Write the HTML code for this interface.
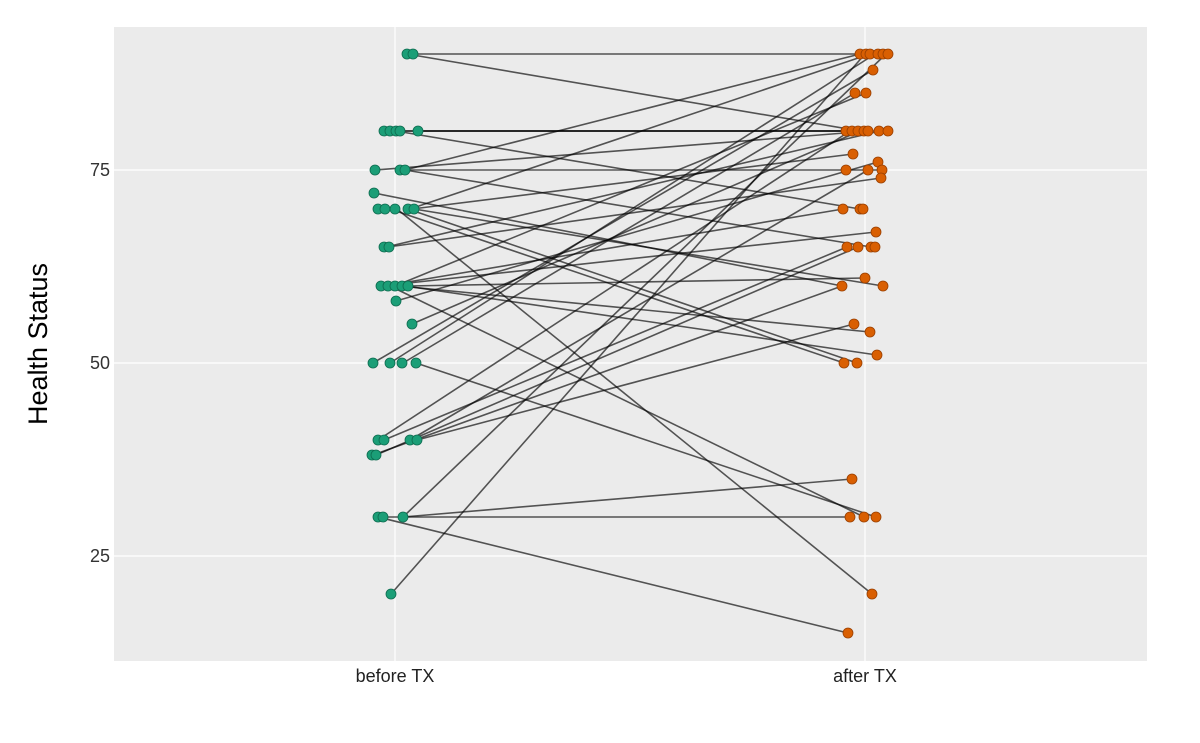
<!DOCTYPE html>
<html><head><style>body{margin:0;background:#fff}</style></head><body>
<svg width="1200" height="738" xmlns="http://www.w3.org/2000/svg" font-family="Liberation Sans, sans-serif">
<rect x="0" y="0" width="1200" height="738" fill="#fff"/>
<rect x="114" y="27" width="1033" height="634" fill="#ebebeb"/>
<g stroke="#fff" stroke-width="1.2">
<line x1="114" x2="1147" y1="170" y2="170"/><line x1="114" x2="1147" y1="363" y2="363"/><line x1="114" x2="1147" y1="556" y2="556"/>
<line x1="395" x2="395" y1="27" y2="661"/><line x1="865" x2="865" y1="27" y2="661"/>
</g>
<g font-size="18" fill="#333" text-anchor="end">
<text x="110" y="176">75</text><text x="110" y="369">50</text><text x="110" y="562">25</text>
</g>
<g font-size="18" fill="#222" text-anchor="middle">
<text x="395" y="682">before TX</text><text x="865" y="682">after TX</text>
</g>
<text transform="translate(47,344) rotate(-90)" font-size="27" text-anchor="middle" fill="#000">Health Status</text>
<g stroke="#000" stroke-opacity="0.65" stroke-width="1.6">
<line x1="413" y1="54" x2="888" y2="54"/>
<line x1="407" y1="54" x2="860" y2="131"/>
<line x1="390" y1="131" x2="860" y2="131"/>
<line x1="384" y1="131" x2="846" y2="131"/>
<line x1="396" y1="131" x2="860" y2="209"/>
<line x1="418" y1="131" x2="890" y2="131"/>
<line x1="375" y1="170" x2="870" y2="131"/>
<line x1="400" y1="170" x2="882" y2="170"/>
<line x1="405" y1="170" x2="871" y2="247"/>
<line x1="405" y1="170" x2="860" y2="54"/>
<line x1="374" y1="193" x2="842" y2="286"/>
<line x1="410" y1="209" x2="870" y2="54"/>
<line x1="412" y1="209" x2="853" y2="154"/>
<line x1="414" y1="209" x2="883" y2="286"/>
<line x1="408" y1="209" x2="857" y2="363"/>
<line x1="397" y1="209" x2="872" y2="594"/>
<line x1="388" y1="247" x2="881" y2="178"/>
<line x1="386" y1="247" x2="880" y2="131"/>
<line x1="381" y1="286" x2="876" y2="232"/>
<line x1="395" y1="286" x2="866" y2="93"/>
<line x1="400" y1="286" x2="870" y2="332"/>
<line x1="405" y1="286" x2="877" y2="355"/>
<line x1="408" y1="286" x2="865" y2="278"/>
<line x1="390" y1="286" x2="864" y2="517"/>
<line x1="396" y1="301" x2="878" y2="162"/>
<line x1="412" y1="324" x2="860" y2="131"/>
<line x1="373" y1="363" x2="873" y2="70"/>
<line x1="390" y1="363" x2="875" y2="54"/>
<line x1="403" y1="363" x2="855" y2="93"/>
<line x1="416" y1="363" x2="876" y2="517"/>
<line x1="384" y1="440" x2="847" y2="247"/>
<line x1="378" y1="440" x2="850" y2="131"/>
<line x1="410" y1="440" x2="868" y2="170"/>
<line x1="417" y1="440" x2="854" y2="324"/>
<line x1="373" y1="455" x2="842" y2="286"/>
<line x1="376" y1="455" x2="858" y2="247"/>
<line x1="383" y1="517" x2="850" y2="517"/>
<line x1="378" y1="517" x2="848" y2="633"/>
<line x1="403" y1="517" x2="852" y2="479"/>
<line x1="403" y1="517" x2="886" y2="54"/>
<line x1="391" y1="594" x2="865" y2="54"/>
<line x1="390" y1="209" x2="844" y2="363"/>
<line x1="384" y1="286" x2="843" y2="209"/>
</g>
<g fill="#1b9e77" stroke="#0d6b4f" stroke-width="0.8">
<circle cx="407" cy="54" r="5"/><circle cx="413" cy="54" r="5"/>
<circle cx="384" cy="131" r="5"/><circle cx="390" cy="131" r="5"/><circle cx="396" cy="131" r="5"/><circle cx="400" cy="131" r="5"/><circle cx="418" cy="131" r="5"/>
<circle cx="375" cy="170" r="5"/><circle cx="400" cy="170" r="5"/><circle cx="405" cy="170" r="5"/>
<circle cx="374" cy="193" r="5"/>
<circle cx="378" cy="209" r="5"/><circle cx="385" cy="209" r="5"/><circle cx="395" cy="209" r="5"/><circle cx="408" cy="209" r="5"/><circle cx="414" cy="209" r="5"/>
<circle cx="384" cy="247" r="5"/><circle cx="389" cy="247" r="5"/>
<circle cx="381" cy="286" r="5"/><circle cx="388" cy="286" r="5"/><circle cx="395" cy="286" r="5"/><circle cx="402" cy="286" r="5"/><circle cx="408" cy="286" r="5"/>
<circle cx="396" cy="301" r="5"/><circle cx="412" cy="324" r="5"/>
<circle cx="373" cy="363" r="5"/><circle cx="390" cy="363" r="5"/><circle cx="402" cy="363" r="5"/><circle cx="416" cy="363" r="5"/>
<circle cx="378" cy="440" r="5"/><circle cx="384" cy="440" r="5"/><circle cx="410" cy="440" r="5"/><circle cx="417" cy="440" r="5"/>
<circle cx="372" cy="455" r="5"/><circle cx="376" cy="455" r="5"/>
<circle cx="378" cy="517" r="5"/><circle cx="383" cy="517" r="5"/><circle cx="403" cy="517" r="5"/>
<circle cx="391" cy="594" r="5"/>
</g>
<g fill="#d95f02" stroke="#9a3f00" stroke-width="0.8">
<circle cx="860" cy="54" r="5"/><circle cx="866" cy="54" r="5"/><circle cx="870" cy="54" r="5"/><circle cx="878" cy="54" r="5"/><circle cx="883" cy="54" r="5"/><circle cx="888" cy="54" r="5"/>
<circle cx="873" cy="70" r="5"/><circle cx="855" cy="93" r="5"/><circle cx="866" cy="93" r="5"/>
<circle cx="846" cy="131" r="5"/><circle cx="852" cy="131" r="5"/><circle cx="858" cy="131" r="5"/><circle cx="864" cy="131" r="5"/><circle cx="868" cy="131" r="5"/><circle cx="879" cy="131" r="5"/><circle cx="888" cy="131" r="5"/>
<circle cx="853" cy="154" r="5"/><circle cx="878" cy="162" r="5"/>
<circle cx="846" cy="170" r="5"/><circle cx="868" cy="170" r="5"/><circle cx="882" cy="170" r="5"/><circle cx="881" cy="178" r="5"/>
<circle cx="843" cy="209" r="5"/><circle cx="860" cy="209" r="5"/><circle cx="863" cy="209" r="5"/>
<circle cx="876" cy="232" r="5"/>
<circle cx="847" cy="247" r="5"/><circle cx="858" cy="247" r="5"/><circle cx="871" cy="247" r="5"/><circle cx="875" cy="247" r="5"/>
<circle cx="865" cy="278" r="5"/><circle cx="842" cy="286" r="5"/><circle cx="883" cy="286" r="5"/>
<circle cx="854" cy="324" r="5"/><circle cx="870" cy="332" r="5"/><circle cx="877" cy="355" r="5"/>
<circle cx="844" cy="363" r="5"/><circle cx="857" cy="363" r="5"/>
<circle cx="852" cy="479" r="5"/>
<circle cx="850" cy="517" r="5"/><circle cx="864" cy="517" r="5"/><circle cx="876" cy="517" r="5"/>
<circle cx="872" cy="594" r="5"/><circle cx="848" cy="633" r="5"/>
</g>
</svg>
</body></html>
